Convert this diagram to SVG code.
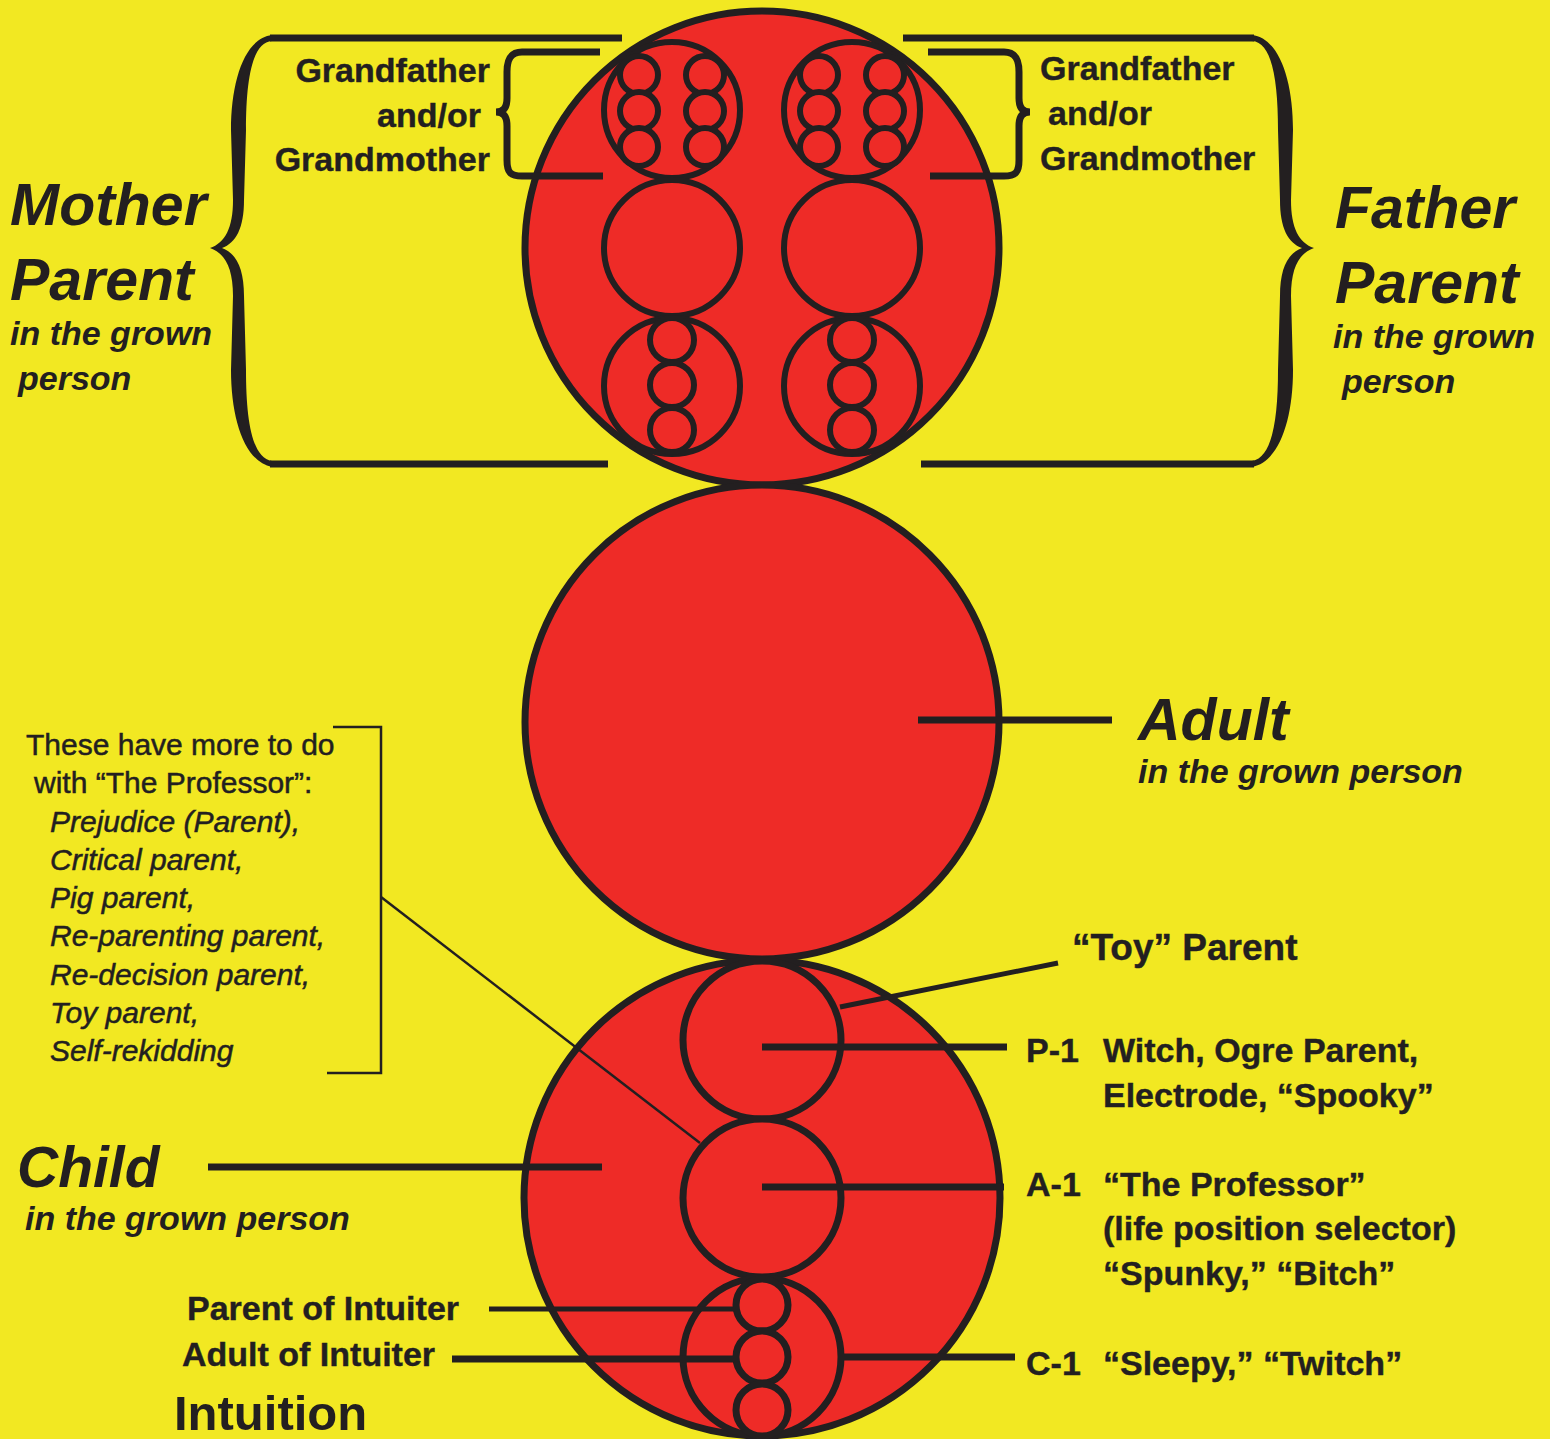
<svg xmlns="http://www.w3.org/2000/svg" width="1550" height="1439" viewBox="0 0 1550 1439">
<style>
.bg{fill:#F2E822}
.c{fill:#EE2B27;stroke:#231F20;stroke-width:7}
.cs{fill:#EE2B27;stroke:#231F20;stroke-width:6}
.ln{stroke:#231F20;stroke-width:7;fill:none}
.ln5{stroke:#231F20;stroke-width:5;fill:none}
.ln2{stroke:#231F20;stroke-width:2.5;fill:none}
.br{fill:#231F20}
text{font-family:"Liberation Sans",Arial,sans-serif;fill:#231F20}
.big{font-size:59px;font-weight:bold;font-style:italic}
.sub{font-size:34px;font-weight:bold;font-style:italic}
.lab{font-size:34px;font-weight:bold;stroke:#231F20;stroke-width:0.4}
.lab34{font-size:34px;font-weight:bold;stroke:#231F20;stroke-width:0.4}
.note{font-size:30px;stroke:#231F20;stroke-width:0.5}
.notei{font-size:30px;font-style:italic;stroke:#231F20;stroke-width:0.5}
</style>
<rect class="bg" x="0" y="0" width="1550" height="1439"/>

<g id="parent-circle">
  <circle class="c" cx="762" cy="248" r="237"/>
  <circle class="cs" cx="672" cy="110" r="68"/>
  <circle class="cs" cx="639" cy="75" r="19"/>
  <circle class="cs" cx="639" cy="111" r="19"/>
  <circle class="cs" cx="639" cy="147" r="19"/>
  <circle class="cs" cx="705" cy="75" r="19"/>
  <circle class="cs" cx="705" cy="111" r="19"/>
  <circle class="cs" cx="705" cy="147" r="19"/>
  <circle class="cs" cx="852" cy="110" r="68"/>
  <circle class="cs" cx="819" cy="75" r="19"/>
  <circle class="cs" cx="819" cy="111" r="19"/>
  <circle class="cs" cx="819" cy="147" r="19"/>
  <circle class="cs" cx="885" cy="75" r="19"/>
  <circle class="cs" cx="885" cy="111" r="19"/>
  <circle class="cs" cx="885" cy="147" r="19"/>
  <circle class="cs" cx="672" cy="248" r="68"/>
  <circle class="cs" cx="852" cy="248" r="68"/>
  <circle class="cs" cx="672" cy="386" r="68"/>
  <circle class="cs" cx="672" cy="340" r="22"/>
  <circle class="cs" cx="672" cy="385" r="22"/>
  <circle class="cs" cx="672" cy="430" r="22"/>
  <circle class="cs" cx="852" cy="386" r="68"/>
  <circle class="cs" cx="852" cy="340" r="22"/>
  <circle class="cs" cx="852" cy="385" r="22"/>
  <circle class="cs" cx="852" cy="430" r="22"/>
</g>

<g id="adult-circle">
  <circle class="c" cx="762" cy="722" r="237"/>
</g>

<g id="child-circle">
  <circle class="c" cx="762" cy="1198" r="238"/>
  <circle class="c" cx="762" cy="1040" r="79"/>
  <circle class="c" cx="762" cy="1198" r="79"/>
  <circle class="c" cx="762" cy="1357" r="79"/>
  <circle class="c" cx="762" cy="1305" r="26"/>
  <circle class="c" cx="762" cy="1357" r="26"/>
  <circle class="c" cx="762" cy="1410" r="26"/>
</g>

<g id="connectors">
  <line class="ln" x1="270" y1="38" x2="622" y2="38"/>
  <line class="ln" x1="270" y1="464" x2="608" y2="464"/>
  <path class="br" d="M272 35 C245 38 231 80 231 130 L233 200 C233 228 225 243 210 248 C225 253 233 268 233 296 L231 370 C231 420 245 462 272 467 L272 461 C252 458 246 420 246 370 L244 296 C244 268 236 253 222 248 C236 243 244 228 244 200 L246 130 C246 80 252 42 272 41 Z"/>
  <line class="ln" x1="903" y1="38" x2="1254" y2="38"/>
  <line class="ln" x1="921" y1="464" x2="1254" y2="464"/>
  <path class="br" transform="translate(1524,0) scale(-1,1)" d="M272 35 C245 38 231 80 231 130 L233 200 C233 228 225 243 210 248 C225 253 233 268 233 296 L231 370 C231 420 245 462 272 467 L272 461 C252 458 246 420 246 370 L244 296 C244 268 236 253 222 248 C236 243 244 228 244 200 L246 130 C246 80 252 42 272 41 Z"/>
  <path class="ln" d="M600 52 L522 52 C510 52 507 60 507 72 L507 98 C507 108 503 112 496 112 C503 112 507 116 507 126 L507 160 C507 172 510 176 522 176 L603 176"/>
  <path class="ln" d="M928 52 L1004 52 C1016 52 1019 60 1019 72 L1019 98 C1019 108 1023 112 1030 112 C1023 112 1019 116 1019 126 L1019 160 C1019 172 1016 176 1004 176 L930 176"/>
  <line class="ln" x1="918" y1="720" x2="1112" y2="720"/>
  <polyline class="ln2" points="333,727 381,727 381,1073 327,1073"/>
  <line class="ln2" x1="381" y1="897" x2="700" y2="1143"/>
  <line class="ln" x1="208" y1="1167" x2="602" y2="1167"/>
  <line class="ln5" x1="840" y1="1007" x2="1058" y2="963"/>
  <line class="ln" x1="762" y1="1047" x2="1007" y2="1047"/>
  <line class="ln" x1="762" y1="1187" x2="1004" y2="1187"/>
  <line class="ln" x1="844" y1="1357" x2="1015" y2="1357"/>
  <line class="ln5" x1="489" y1="1309" x2="734" y2="1309"/>
  <line class="ln" x1="452" y1="1359" x2="734" y2="1359"/>
</g>

<g id="labels-top">
  <text class="lab" x="490" y="82" text-anchor="end">Grandfather</text>
  <text class="lab" x="481" y="127" text-anchor="end">and/or</text>
  <text class="lab" x="490" y="171" text-anchor="end">Grandmother</text>
  <text class="lab" x="1040" y="80">Grandfather</text>
  <text class="lab" x="1048" y="125">and/or</text>
  <text class="lab" x="1040" y="170">Grandmother</text>
  <text class="big" x="10" y="225">Mother</text>
  <text class="big" x="10" y="300">Parent</text>
  <text class="sub" x="10" y="345">in the grown</text>
  <text class="sub" x="18" y="390">person</text>
  <text class="big" x="1335" y="228">Father</text>
  <text class="big" x="1335" y="303">Parent</text>
  <text class="sub" x="1333" y="348">in the grown</text>
  <text class="sub" x="1342" y="393">person</text>
</g>

<g id="labels-adult">
  <text class="big" x="1138" y="740">Adult</text>
  <text class="sub" x="1138" y="783">in the grown person</text>
</g>

<g id="labels-note">
  <text class="note" x="26" y="755">These have more to do</text>
  <text class="note" x="34" y="793">with “The Professor”:</text>
  <text class="notei" x="50" y="832">Prejudice (Parent),</text>
  <text class="notei" x="50" y="870">Critical parent,</text>
  <text class="notei" x="50" y="908">Pig parent,</text>
  <text class="notei" x="50" y="946">Re-parenting parent,</text>
  <text class="notei" x="50" y="985">Re-decision parent,</text>
  <text class="notei" x="50" y="1023">Toy parent,</text>
  <text class="notei" x="50" y="1061">Self-rekidding</text>
</g>

<g id="labels-child">
  <text class="big" x="17" y="1187" style="font-size:57px">Child</text>
  <text class="sub" x="25" y="1230">in the grown person</text>
  <text class="lab" x="187" y="1320">Parent of Intuiter</text>
  <text class="lab" x="182" y="1366">Adult of Intuiter</text>
  <text x="174" y="1430" style="font-size:49px;font-weight:bold">Intuition</text>
  <text class="lab34" x="1072" y="960" style="font-size:37px">“Toy” Parent</text>
  <text class="lab34" x="1026" y="1062">P-1</text>
  <text class="lab34" x="1103" y="1062">Witch, Ogre Parent,</text>
  <text class="lab34" x="1103" y="1107">Electrode, “Spooky”</text>
  <text class="lab34" x="1026" y="1196">A-1</text>
  <text class="lab34" x="1103" y="1196">“The Professor”</text>
  <text class="lab34" x="1103" y="1240">(life position selector)</text>
  <text class="lab34" x="1103" y="1285">“Spunky,” “Bitch”</text>
  <text class="lab34" x="1026" y="1375">C-1</text>
  <text class="lab34" x="1103" y="1375">“Sleepy,” “Twitch”</text>
</g>
</svg>
